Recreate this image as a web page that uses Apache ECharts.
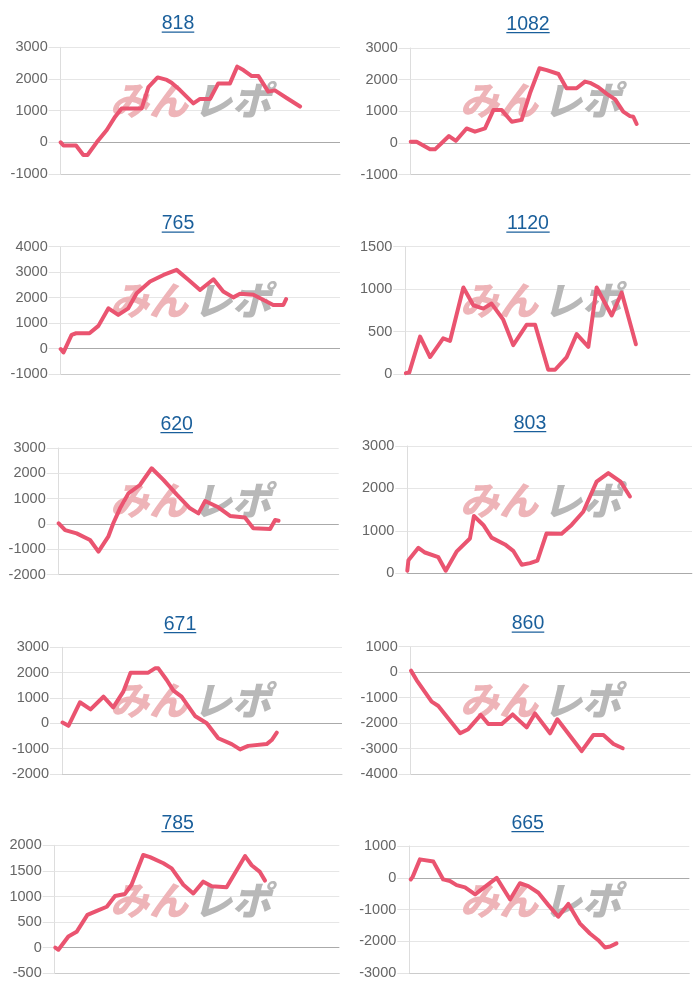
<!DOCTYPE html>
<html><head><meta charset="utf-8">
<script src="https://cdn.jsdelivr.net/npm/echarts@6/dist/echarts.min.js"></script>
<style>html,body{margin:0;padding:0;background:#fff}#c{width:700px;height:1000px}</style>
</head><body><div id="c"></div>
<script>
// ---- data ----
const titles = ['818','1082','765','1120','620','803','671','860','785','665'];

const x818 = [0,1.0,5.5,8.1,9.6,12.9,16.5,19.5,21.8,29.0,31.4,34.7,38.0,39.7,42.7,47.5,49.9,53.5,56.4,60.6,63.2,65.4,68.4,70.8,74.3,76.7,80.9,85.7];
const y818 = [0,-100,-100,-400,-400,0,390,810,1070,1070,1740,2050,1970,1880,1650,1230,1370,1370,1860,1860,2390,2280,2090,2090,1600,1640,1400,1130];

const x1082 = [0,2.1,6.9,8.7,11.1,13.7,16.2,20.0,23.0,26.6,29.6,32.6,36.2,39.7,42.7,46.1,48.7,52.9,55.8,59.4,62.4,64.2,67.2,70.2,73.2,76.1,78.5,79.7,80.9];
const y1082 = [40,40,-200,-200,0,220,70,460,360,460,1040,1040,670,730,1570,2360,2300,2180,1730,1730,1940,1900,1760,1550,1380,990,850,830,600];

const x765 = [0,1.0,3.9,5.5,10.3,13.5,17.1,20.6,24.2,27.2,32.0,36.8,41.5,45.7,49.9,54.7,58.2,61.8,64.2,69.0,73.7,76.1,79.7,80.7];
const y765 = [-20,-150,540,600,600,890,1580,1320,1580,2170,2630,2890,3090,2700,2300,2720,2240,2010,2150,2110,1850,1710,1710,1940];

const x1120 = [0.2,1.4,5.2,8.7,13.3,15.7,20.4,23.9,27.4,30.3,34.4,37.9,42.6,45.6,50.2,52.6,56.7,60.2,64.3,67.2,72.5,76.0,81.0];
const y1120 = [10,20,440,200,420,390,1020,810,770,830,640,340,580,580,50,50,200,470,320,1020,690,960,350];

const x620 = [0,2.3,6.4,11.2,14.2,17.7,19.5,21.9,24.9,29.0,33.2,37.4,42.1,46.9,49.9,52.3,57.0,61.2,66.5,69.5,75.5,77.3,78.5];
const y620 = [30,-240,-370,-630,-1090,-500,30,620,1210,1540,2200,1740,1170,620,420,910,660,320,260,-170,-200,160,130];

const x803 = [0,0.4,3.9,6.2,10.9,13.5,17.3,22.0,23.4,26.7,29.6,34.3,37.2,40.2,43.1,45.7,48.9,54.2,57.7,61.8,66.5,70.6,74.9,78.2];
const y803 = [60,310,600,490,380,60,510,820,1350,1140,840,680,530,200,240,300,940,930,1140,1450,2160,2360,2160,1810];

const x671 = [0.2,2.3,6.4,10.2,14.8,18.3,21.9,24.5,30.8,33.2,34.4,37.4,39.8,42.7,47.5,51.7,55.8,60.6,63.6,66.5,73.1,74.9,76.7];
const y671 = [30,-100,830,550,1050,630,1250,2000,2000,2170,2170,1710,1290,1050,290,0,-590,-820,-1030,-890,-820,-660,-370];

const x860 = [0.1,2.1,7.5,9.9,17.7,20.6,25.1,27.8,32.6,36.5,41.5,44.5,49.9,52.5,61.2,65.4,69.0,72.6,75.9];
const y860 = [60,-310,-1160,-1330,-2400,-2240,-1680,-2040,-2040,-1660,-2170,-1620,-2400,-1850,-3100,-2470,-2470,-2820,-2990];

const x785 = [0.2,1.3,4.8,7.7,11.5,14.8,18.3,21.2,24.7,27.0,31.1,33.5,38.2,41.1,45.2,48.7,52.2,55.2,60.4,66.9,69.2,72.1,73.9];
const y785 = [0,-40,220,310,640,720,800,1010,1050,1230,1810,1770,1650,1550,1230,1060,1290,1200,1180,1790,1610,1480,1310];

const x665 = [0.5,1.2,3.8,8.6,12.1,14.5,16.9,19.9,23.5,31.2,36.0,39.5,42.5,46.1,49.6,53.2,56.8,60.9,64.5,67.5,69.9,71.7,74.0];
const y665 = [-50,30,580,510,-50,-100,-230,-300,-520,0,-680,-170,-260,-470,-850,-1220,-820,-1430,-1750,-1960,-2190,-2160,-2060];

const xs = [x818,x1082,x765,x1120,x620,x803,x671,x860,x785,x665];
const ys = [y818,y1082,y765,y1120,y620,y803,y671,y860,y785,y665];

const yMin  = [-1000,-1000,-1000,0,-2000,0,-2000,-4000,-500,-3000];
const yMax  = [3000,3000,4000,1500,3000,3000,3000,1000,2000,1000];
const yStep = [1000,1000,1000,500,1000,1000,1000,1000,500,1000];

// ---- layout ----
const boxes = [ // left, top, right, bottom (px)
  [60.7,47.3,340,174],[410.7,48,690,174.7],
  [60.7,246.7,340,374],[405.3,246.7,690,374],
  [58.7,448,338.7,574.7],[407.3,446,692,573.3],
  [62,647.3,342,774],[410.7,646.7,690,774],
  [54.7,845.3,339.3,973.3],[409.3,846,689.3,973.3]
];
const titlePos = [[178,24],[528,24.5],[178,224],[528,224],[176.7,424.5],[530,423.5],[180,624.5],[528,624],[177.7,823.5],[527.7,823.5]];

const LINE = '#ea5470';
const TITLE = '#1a5f9b';
const FS_T = 19.5;

const chart = echarts.init(document.getElementById('c'));
const grid=[], xAxis=[], yAxis=[], series=[], graphic=[];

titles.forEach((t,i)=>{
  const [l,tp,r,b] = boxes[i];
  grid.push({left:l, top:tp, width:r-l, height:b-tp, containLabel:false});
  xAxis.push({type:'value', gridIndex:i, min:0, max:100,
    axisLine:{show:true, onZero:false, lineStyle:{color:'#cccccc'}},
    axisTick:{show:false}, axisLabel:{show:false}, splitLine:{show:false}});
  yAxis.push({type:'value', gridIndex:i, min:yMin[i], max:yMax[i], interval:yStep[i],
    axisLine:{show:true, lineStyle:{color:'#dddddd'}},
    axisTick:{show:true, length:12, lineStyle:{color:'#e3e3e3'}},
    axisLabel:{color:'#666', fontSize:14.5, fontFamily:'Liberation Sans, Arial', margin:13,
      formatter: v => String(v)},
    splitLine:{show:true, lineStyle:{color:'#e6e6e6'}}});
  series.push({type:'line', xAxisIndex:i, yAxisIndex:i, z:5,
    data: xs[i].map((x,j)=>[x, ys[i][j]]),
    showSymbol:false, symbol:'none', animation:false,
    lineStyle:{color:LINE, width:4, join:'round', cap:'round'},
    markLine:{silent:true, symbol:'none', animation:false, label:{show:false},
      lineStyle:{color:'#aaaaaa', type:'solid', width:1}, data:[{yAxis:0}]}});
  // title with underline
  const [cx,cy] = titlePos[i];
  const w = t.length*0.556*FS_T;
  graphic.push({type:'text', x:cx, y:cy, z:10, style:{text:t, fill:TITLE, font:FS_T+'px "Liberation Sans", Arial', textAlign:'center', textVerticalAlign:'middle'}});
  graphic.push({type:'rect', shape:{x:cx-w/2, y:cy+7.5, width:w, height:1.2}, z:10, style:{fill:TITLE}});
  // watermark
  const ox = (i%2)*350, oy = Math.floor(i/2)*200;
  graphic.push({type:'text', x:ox+110, y:oy+81, z:1, style:{text:'みん', fill:'#eeb4b8', font:'italic 900 39px "Noto Sans CJK JP"', textVerticalAlign:'top'}});
  graphic.push({type:'text', x:ox+193, y:oy+81, z:1, style:{text:'レポ', fill:'#b8b8b8', font:'italic 900 39px "Noto Sans CJK JP"', textVerticalAlign:'top'}});
});

chart.setOption({animation:false, grid, xAxis, yAxis, series, graphic});
</script></body></html>
